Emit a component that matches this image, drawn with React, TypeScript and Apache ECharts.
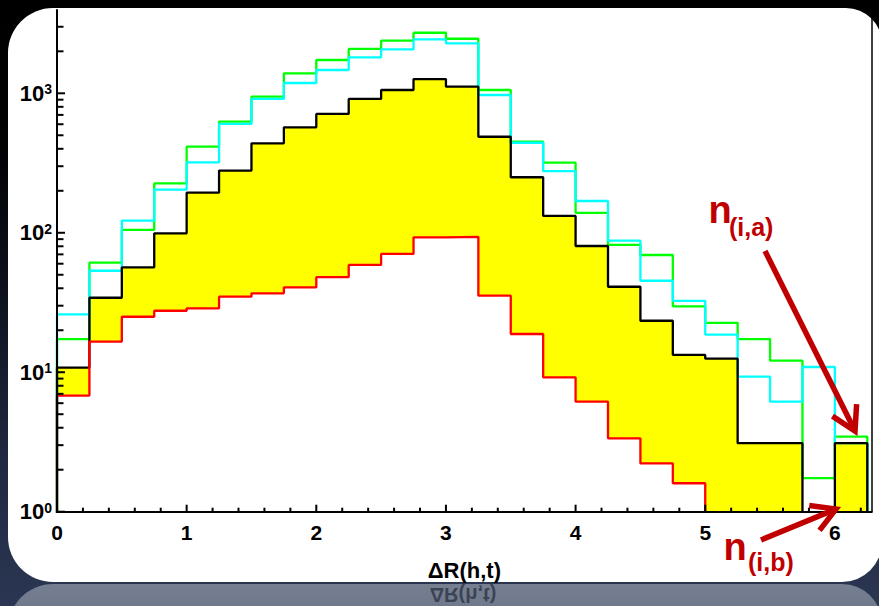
import React, { useEffect, useRef } from "react";
import * as echarts from "echarts";

// ---- data ----
const binWidth = 0.25;
const binCount = 25;
const blackCounts = [10.8, 34.2, 56.5, 99, 194, 279, 438, 570, 711, 911, 1056, 1265, 1115, 488, 250, 132, 80.4, 41, 23.4, 13.3, 12.5, 3.1, 3.1, 0, 3.1];
const greenCounts = [17.3, 61, 105, 226, 414, 626, 946, 1390, 1733, 2080, 2383, 2717, 2462, 1056, 450, 318, 139, 82, 69.3, 29.7, 22.6, 17.3, 12.1, 1.74, 3.45];
const cyanCounts = [26, 53.4, 122, 204, 320, 603, 911, 1185, 1469, 1812, 2066, 2433, 2281, 972, 442, 277, 169, 87.7, 45.3, 32.5, 18.6, 9.3, 6.15, 10.9, 3.1];
const redCounts = [6.8, 16.6, 25, 27.6, 28.7, 34.8, 36.8, 40.6, 48, 58.8, 70.5, 92.7, 93.5, 35.4, 18.8, 9.2, 6.15, 3.36, 2.22, 1.6, 0, 0, 0, 0, 0];
const xMajorTicks = [0, 1, 2, 3, 4, 5, 6];
const xMinorSteps = [0.2, 0.4, 0.6, 0.8];
const yDecades = [1, 10, 100, 1000];
const yMinorMultipliers = [2, 3, 4, 5, 6, 7, 8, 9];
const xTitle = "ΔR(h,t)";
const labelA = ["n", "(i,a)"];
const labelB = ["n", "(i,b)"];

const X_MAX = 6.284;
const Y_MIN = 1;
const Y_MAX = 3956;
const FLOOR = 0.01;
const FONT = "'Liberation Sans', Arial, Helvetica, sans-serif";
const DARK_RED = "#c00000";

function stepData(counts: number[]) {
  const pts: number[][] = [[0, FLOOR]];
  counts.forEach((c, i) => pts.push([i * binWidth, c > 0 ? c : FLOOR]));
  const last = counts[counts.length - 1];
  pts.push([binCount * binWidth, last > 0 ? last : FLOOR]);
  pts.push([binCount * binWidth, FLOOR]);
  return pts;
}

function arrow(sx: number, sy: number, tx: number, ty: number, len: number, angDeg: number) {
  const back = Math.atan2(sy - ty, sx - tx);
  const d = (angDeg * Math.PI) / 180;
  const head = [
    [tx + len * Math.cos(back + d), ty + len * Math.sin(back + d)],
    [tx, ty],
    [tx + len * Math.cos(back - d), ty + len * Math.sin(back - d)],
  ];
  const ex = tx + 3 * Math.cos(back);
  const ey = ty + 3 * Math.sin(back);
  return [
    { type: "line", shape: { x1: sx, y1: sy, x2: ex, y2: ey }, style: { stroke: DARK_RED, lineWidth: 5.5 }, z: 20 },
    { type: "polyline", shape: { points: head }, style: { stroke: DARK_RED, lineWidth: 5.5, fill: null, lineJoin: "miter" }, z: 20 },
  ];
}

export default function App() {
  const ref = useRef<HTMLDivElement>(null);

  useEffect(() => {
    if (!ref.current) return;
    const chart = echarts.init(ref.current, undefined, { renderer: "svg" });

    const tickData: number[][] = [];
    xMajorTicks.forEach((t) => tickData.push([t, Y_MIN, 7, 0]));
    xMajorTicks.forEach((t) =>
      xMinorSteps.forEach((s) => {
        if (t + s < X_MAX) tickData.push([t + s, Y_MIN, 4, 0]);
      })
    );
    yDecades.forEach((d) => tickData.push([0, d, 8, 1]));
    yDecades.forEach((d) =>
      yMinorMultipliers.forEach((m) => {
        if (d * m < Y_MAX) tickData.push([0, d * m, 6.5, 1]);
      })
    );

    const lineBase = { type: "line", step: "end", symbol: "none", clip: true, yAxisIndex: 0 } as any;

    const option: any = {
      animation: false,
      textStyle: { fontFamily: FONT },
      grid: { left: 57, right: 7.3, top: 10, bottom: 94.3, containLabel: false },
      xAxis: {
        type: "value",
        min: 0,
        max: X_MAX,
        interval: 1,
        z: 10,
        axisLine: { show: true, onZero: false, lineStyle: { color: "#000", width: 2 } },
        axisTick: { show: false },
        splitLine: { show: false },
        axisLabel: {
          color: "#000",
          fontSize: 21,
          fontWeight: "bold",
          fontFamily: FONT,
          margin: 10,
          showMaxLabel: false,
          formatter: (v: number) => (Number.isInteger(v) ? String(v) : ""),
        },
        name: xTitle,
        nameLocation: "middle",
        nameGap: 48,
        nameTextStyle: { color: "#000", fontSize: 22, fontWeight: "bold", fontFamily: FONT },
      },
      yAxis: [
        {
          type: "log",
          logBase: 10,
          min: Y_MIN,
          max: Y_MAX,
          z: 10,
          axisLine: { show: true, onZero: false, lineStyle: { color: "#000", width: 2 } },
          axisTick: { show: false },
          splitLine: { show: false },
          axisLabel: {
            margin: 5,
            showMaxLabel: false,
            formatter: (v: number) => {
              const e = Math.log10(v);
              const r = Math.round(e);
              if (Math.abs(e - r) > 1e-6) return "";
              return "{b|10}{s|" + r + "}";
            },
            rich: {
              b: { fontSize: 22, fontWeight: "bold", color: "#000", fontFamily: FONT },
              s: { fontSize: 14, fontWeight: "bold", color: "#000", fontFamily: FONT, verticalAlign: "top" },
            },
          },
        },
        {
          type: "log",
          logBase: 10,
          min: Y_MIN,
          max: Y_MAX,
          position: "right",
          z: 10,
          axisLine: { show: true, onZero: false, lineStyle: { color: "#000", width: 1.5 } },
          axisTick: { show: false },
          axisLabel: { show: false },
          splitLine: { show: false },
        },
      ],
      series: [
        {
          ...lineBase,
          name: "black-fill",
          data: stepData(blackCounts),
          lineStyle: { opacity: 0 },
          areaStyle: { color: "#ffff00", opacity: 1, origin: 1 },
          z: 2,
        },
        {
          ...lineBase,
          name: "red-fill",
          data: stepData(redCounts),
          lineStyle: { opacity: 0 },
          areaStyle: { color: "#ffffff", opacity: 1, origin: 1 },
          z: 3,
        },
        { ...lineBase, name: "green", data: stepData(greenCounts), lineStyle: { color: "#00ff00", width: 2.3 }, z: 4 },
        { ...lineBase, name: "cyan", data: stepData(cyanCounts), lineStyle: { color: "#00ffff", width: 2.3 }, z: 5 },
        { ...lineBase, name: "black", data: stepData(blackCounts), lineStyle: { color: "#000000", width: 2.3 }, z: 6 },
        { ...lineBase, name: "red", data: stepData(redCounts), lineStyle: { color: "#ff0000", width: 2.3 }, z: 7 },
        {
          type: "custom",
          name: "ticks",
          coordinateSystem: "cartesian2d",
          yAxisIndex: 0,
          data: tickData,
          encode: { x: 0, y: 1 },
          silent: true,
          clip: false,
          z: 10,
          renderItem: (params: any, api: any) => {
            const p = api.coord([api.value(0), api.value(1)]);
            const len = api.value(2);
            const isY = api.value(3) === 1;
            const shape = isY
              ? { x1: p[0], y1: p[1], x2: p[0] + len, y2: p[1] }
              : { x1: p[0], y1: p[1], x2: p[0], y2: p[1] - len };
            return { type: "line", shape, style: { stroke: "#000", lineWidth: 2 } };
          },
        },
      ],
      graphic: [
        {
          type: "text",
          x: 708.5,
          y: 209.6,
          style: { text: labelA[0], fill: DARK_RED, fontSize: 38, fontWeight: "bold", fontFamily: FONT, align: "left", verticalAlign: "middle" },
          z: 20,
        },
        {
          type: "text",
          x: 729,
          y: 226.5,
          style: { text: labelA[1], fill: DARK_RED, fontSize: 25, fontWeight: "bold", fontFamily: FONT, align: "left", verticalAlign: "middle" },
          z: 20,
        },
        {
          type: "text",
          x: 723.5,
          y: 546.6,
          style: { text: labelB[0], fill: DARK_RED, fontSize: 38, fontWeight: "bold", fontFamily: FONT, align: "left", verticalAlign: "middle" },
          z: 20,
        },
        {
          type: "text",
          x: 748,
          y: 562.3,
          style: { text: labelB[1], fill: DARK_RED, fontSize: 25, fontWeight: "bold", fontFamily: FONT, align: "left", verticalAlign: "middle" },
          z: 20,
        },
        ...arrow(765, 251, 855, 431, 27, 30),
        ...arrow(761, 540, 836, 509, 27, 30),
        {
          type: "text",
          x: 463,
          y: 595,
          scaleY: -1,
          style: { text: xTitle, fill: "rgba(45,52,68,0.8)", fontSize: 20, fontWeight: "bold", fontFamily: FONT, align: "center", verticalAlign: "middle" },
          z: 1,
        },
      ],
    };

    chart.setOption(option);
    return () => chart.dispose();
  }, []);

  return (
    <div
      style={{
        position: "absolute",
        left: 0,
        top: 0,
        width: 879,
        height: 606,
        overflow: "hidden",
        background: "linear-gradient(to bottom, #000000 0%, #020305 25%, #0e1320 50%, #1f2840 75%, #2b3652 100%)",
      }}
    >
      <div
        style={{
          position: "absolute",
          left: 8,
          top: 8,
          width: 874,
          height: 574,
          background: "#ffffff",
          borderRadius: "45px 36px 40px 45px",
        }}
      />
      <div
        style={{
          position: "absolute",
          left: 8,
          top: 584,
          width: 874,
          height: 60,
          background: "linear-gradient(to bottom, #767f91 0%, #667083 100%)",
          borderRadius: "45px 40px 0 0",
        }}
      />
      <div ref={ref} style={{ position: "absolute", left: 0, top: 0, width: 879, height: 606 }} />
    </div>
  );
}
